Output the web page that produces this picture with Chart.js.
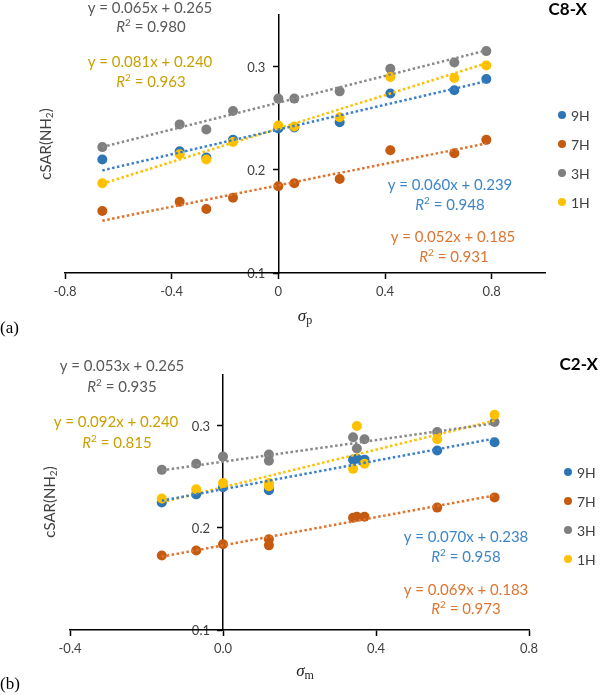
<!DOCTYPE html>
<html><head><meta charset="utf-8">
<script src="https://cdn.jsdelivr.net/npm/chart.js@4.4.1/dist/chart.umd.min.js"></script>
<style>
html,body{margin:0;padding:0;background:#fff;width:600px;height:695px;overflow:hidden}
#ca{position:absolute;left:0;top:0}
#cb{position:absolute;left:0;top:345px}
</style></head>
<body>
<canvas id="ca" width="600" height="345"></canvas>
<canvas id="cb" width="600" height="350"></canvas>
<script>
// ---------- data ----------
const seriesNames = ['9H', '7H', '3H', '1H'];

// (a) C8-X vs sigma_p
const sigmaP = [-0.66, -0.37, -0.27, -0.17, 0.00, 0.06, 0.23, 0.42, 0.66, 0.78];
const c8_9H = [0.210, 0.218, 0.212, 0.229, 0.240, 0.241, 0.246, 0.274, 0.277, 0.288];
const c8_7H = [0.160, 0.169, 0.162, 0.173, 0.184, 0.187, 0.191, 0.219, 0.216, 0.229];
const c8_3H = [0.222, 0.244, 0.239, 0.257, 0.269, 0.269, 0.276, 0.298, 0.304, 0.315];
const c8_1H = [0.187, 0.215, 0.210, 0.227, 0.243, 0.242, 0.251, 0.290, 0.289, 0.301];
const c8Slope = [0.060, 0.052, 0.065, 0.081];
const c8Intercept = [0.239, 0.185, 0.265, 0.240];
const c8R2 = ['0.948', '0.931', '0.980', '0.963'];
const c8XTicks = [-0.8, -0.4, 0, 0.4, 0.8];

// (b) C2-X vs sigma_m
const sigmaM = [-0.16, -0.07, 0.00, 0.12, 0.12, 0.34, 0.35, 0.37, 0.56, 0.71];
const c2_9H = [0.225, 0.233, 0.240, 0.238, 0.237, 0.267, 0.268, 0.267, 0.276, 0.284];
const c2_7H = [0.173, 0.178, 0.184, 0.189, 0.183, 0.210, 0.211, 0.211, 0.220, 0.230];
const c2_3H = [0.257, 0.263, 0.270, 0.272, 0.266, 0.289, 0.278, 0.287, 0.294, 0.304];
const c2_1H = [0.229, 0.238, 0.244, 0.244, 0.241, 0.258, 0.300, 0.263, 0.287, 0.311];
const c2Slope = [0.070, 0.069, 0.053, 0.092];
const c2Intercept = [0.238, 0.183, 0.265, 0.240];
const c2R2 = ['0.958', '0.973', '0.935', '0.815'];
const c2XTicks = [-0.4, 0.0, 0.4, 0.8];

const yTicks = [0.1, 0.2, 0.3];

// ---------- styles ----------
const markerColors = ['#2E75B6', '#C55A11', '#7F7F7F', '#FFC000'];
const lineColors = ['#3A80C8', '#E0722C', '#8A8A8A', '#FFC000'];
const textColors = ['#3D85C6', '#DD7530', '#595959', '#C9A000'];
const FONT = 'Lato, "Open Sans", sans-serif';

function buildDatasets(xs, ys, slopes, intercepts) {
  const ds = [];
  ys.forEach((arr, i) => {
    ds.push({
      type: 'scatter', label: seriesNames[i],
      data: xs.map((x, j) => ({x: x, y: arr[j]})),
      backgroundColor: markerColors[i], borderColor: markerColors[i],
      pointRadius: 5, pointBorderWidth: 0, pointHoverRadius: 5,
      order: 10 + (3 - i)
    });
  });
  const xmin = Math.min(...xs), xmax = Math.max(...xs);
  slopes.forEach((m, i) => {
    ds.push({
      type: 'scatter', label: seriesNames[i] + ' fit', showLine: true,
      data: [{x: xmin, y: m * xmin + intercepts[i]}, {x: xmax, y: m * xmax + intercepts[i]}],
      borderColor: lineColors[i], borderWidth: 2.5, borderDash: [2.5, 2.5],
      pointRadius: 0, pointHoverRadius: 0, order: i
    });
  });
  return ds;
}

function makeOverlay(items, legend) {
  return {
    id: 'overlay',
    beforeDraw(chart) {
      // y tick labels, placed left of the y axis (which crosses at x = 0)
      const ctx = chart.ctx;
      const ys = chart.scales.y, xs = chart.scales.x;
      const ax = xs.getPixelForValue(0);
      ctx.save();
      ctx.font = '13px ' + FONT;
      ctx.fillStyle = '#404040';
      ctx.textAlign = 'right';
      ctx.textBaseline = 'middle';
      yTicks.forEach(v => ctx.fillText(v.toFixed(1), ax - 13, ys.getPixelForValue(v) + 1));
      ctx.restore();
    },
    afterDraw(chart) {
      const ctx = chart.ctx;
      ctx.save();
      for (const it of items) {
        let w = 0;
        const widths = it.segs.map(s => { ctx.font = s.font; const mw = ctx.measureText(s.t).width; w += mw; return mw; });
        ctx.save();
        ctx.translate(it.x, it.y);
        if (it.rot) ctx.rotate(it.rot);
        let x0 = it.align === 'left' ? 0 : it.align === 'right' ? -w : -w / 2;
        ctx.fillStyle = it.color;
        ctx.textBaseline = 'middle';
        ctx.textAlign = 'left';
        it.segs.forEach((s, k) => {
          ctx.font = s.font;
          ctx.fillText(s.t, x0, s.dy || 0);
          x0 += widths[k];
        });
        ctx.restore();
      }
      // legend
      ctx.textBaseline = 'middle';
      ctx.textAlign = 'left';
      ctx.font = '14px ' + FONT;
      seriesNames.forEach((n, i) => {
        const y = legend.y + i * legend.dy;
        ctx.fillStyle = markerColors[i];
        ctx.beginPath(); ctx.arc(legend.x, y, 4, 0, Math.PI * 2); ctx.fill();
        ctx.fillStyle = '#404040';
        ctx.fillText(n, legend.x + 9, y + 1);
      });
      ctx.restore();
    }
  };
}

function eqText(i, slopes, intercepts, x, y) {
  return {x, y, color: textColors[i], segs: [{t: 'y = ' + slopes[i].toFixed(3) + 'x + ' + intercepts[i].toFixed(3), font: '15px ' + FONT}]};
}
function r2Text(i, r2, x, y) {
  return {x, y, color: textColors[i], segs: [
    {t: 'R', font: 'italic 15px ' + FONT},
    {t: '2', font: '10px ' + FONT, dy: -4},
    {t: ' = ' + r2[i], font: '15px ' + FONT}
  ]};
}
function yTitle(x, y) {
  return {x, y, rot: -Math.PI / 2, color: '#404040', segs: [
    {t: 'cSAR(NH', font: '15px ' + FONT},
    {t: '2', font: '10px ' + FONT, dy: 4},
    {t: ')', font: '15px ' + FONT}
  ]};
}
function sigmaTitle(sub, x, y) {
  return {x, y, color: '#202020', segs: [
    {t: 'σ', font: 'italic 17px "Liberation Serif", serif'},
    {t: sub, font: '12px "Liberation Serif", serif', dy: 4}
  ]};
}

function scales(xmin, xmax, xTicks, fmt) {
  const tickFont = {family: FONT, size: 13};
  return {
    x: {
      type: 'linear', min: xmin, max: xmax, position: 'bottom',
      border: {display: true, color: '#000', width: 1.5},
      grid: {display: true, drawOnChartArea: false, drawTicks: true, tickLength: 6, tickWidth: 1.5, tickColor: '#000'},
      afterBuildTicks: s => { s.ticks = xTicks.map(v => ({value: v})); },
      ticks: {autoSkip: false, maxRotation: 0, padding: 5, color: '#404040', font: tickFont, callback: fmt},
      afterFit: s => { s.height = 30; }
    },
    y: {
      type: 'linear', min: 0.1, max: 0.35, position: {x: 0},
      border: {display: true, color: '#000', width: 1.5},
      grid: {display: true, drawOnChartArea: false, drawTicks: true, tickLength: 5, tickWidth: 1.5, tickColor: '#000'},
      afterBuildTicks: s => { s.ticks = yTicks.map(v => ({value: v})); },
      ticks: {display: false, autoSkip: false}
    }
  };
}

const common = {
  responsive: false, animation: false, devicePixelRatio: 1,
  plugins: {legend: {display: false}, tooltip: {enabled: false}},
  events: []
};

// ---------- chart (a) ----------
const itemsA = [
  eqText(2, c8Slope, c8Intercept, 150, 8), r2Text(2, c8R2, 151, 27),
  eqText(3, c8Slope, c8Intercept, 150, 62), r2Text(3, c8R2, 151, 82),
  eqText(0, c8Slope, c8Intercept, 450, 185), r2Text(0, c8R2, 450, 205),
  eqText(1, c8Slope, c8Intercept, 453, 237), r2Text(1, c8R2, 454, 257),
  {x: 587, y: 10, align: 'right', color: '#000', segs: [{t: 'C8-X', font: 'bold 17px ' + FONT}]},
  yTitle(46, 144),
  sigmaTitle('p', 305, 317),
  {x: 0, y: 329, align: 'left', color: '#000', segs: [{t: '(a)', font: '17px "Liberation Serif", serif'}]}
];
new Chart(document.getElementById('ca'), {
  type: 'scatter',
  data: {datasets: buildDatasets(sigmaP, [c8_9H, c8_7H, c8_3H, c8_1H], c8Slope, c8Intercept)},
  options: Object.assign({}, common, {
    layout: {padding: {left: 65, right: 55, top: 15, bottom: 42}},
    scales: scales(-0.8, 1.0, c8XTicks, v => Math.abs(v) < 1e-9 ? '0' : v.toFixed(1))
  }),
  plugins: [makeOverlay(itemsA, {x: 562, y: 115, dy: 29})]
});

// ---------- chart (b) ----------
const itemsB = [
  eqText(2, c2Slope, c2Intercept, 122, 21), r2Text(2, c2R2, 122, 42),
  eqText(3, c2Slope, c2Intercept, 116, 77), r2Text(3, c2R2, 117, 98),
  eqText(0, c2Slope, c2Intercept, 466, 192), r2Text(0, c2R2, 466, 212),
  eqText(1, c2Slope, c2Intercept, 466, 245), r2Text(1, c2R2, 466, 264),
  {x: 598, y: 20, align: 'right', color: '#000', segs: [{t: 'C2-X', font: 'bold 17px ' + FONT}]},
  yTitle(50, 157),
  sigmaTitle('m', 305, 327),
  {x: 0, y: 340, align: 'left', color: '#000', segs: [{t: '(b)', font: '17px "Liberation Serif", serif'}]}
];
new Chart(document.getElementById('cb'), {
  type: 'scatter',
  data: {datasets: buildDatasets(sigmaM, [c2_9H, c2_7H, c2_3H, c2_1H], c2Slope, c2Intercept)},
  options: Object.assign({}, common, {
    layout: {padding: {left: 70, right: 71, top: 30, bottom: 35}},
    scales: scales(-0.4, 0.8, c2XTicks, v => v.toFixed(1))
  }),
  plugins: [makeOverlay(itemsB, {x: 568, y: 127, dy: 29})]
});
</script>
</body></html>
